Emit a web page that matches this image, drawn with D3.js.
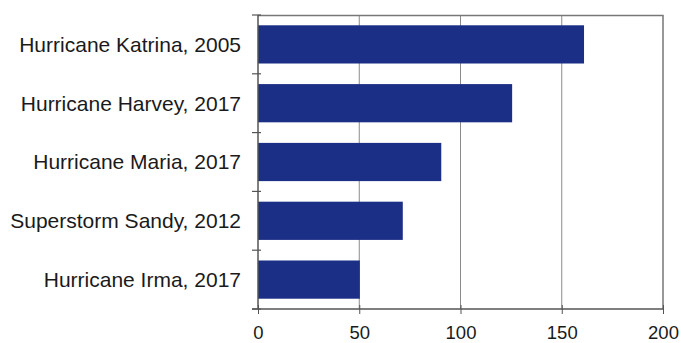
<!DOCTYPE html>
<html>
<head>
<meta charset="utf-8">
<script src="https://cdn.jsdelivr.net/npm/d3@7"></script>
<style>
  body { margin: 0; background: #fff; }
  text { font-family: "Liberation Sans", Arial, sans-serif; fill: #1a1a1a; }
</style>
</head>
<body>
<div id="chart"></div>
<script>
// storm damage
let storms = ["Hurricane Katrina, 2005", "Hurricane Harvey, 2017", "Hurricane Maria, 2017",
              "Superstorm Sandy, 2012", "Hurricane Irma, 2017"];
let values = [161, 125.5, 90.5, 71.5, 50.3];
let xTicks = [0, 50, 100, 150, 200];

let fullWidth = 683, fullHeight = 343;
let margin = {top: 15, right: 20, bottom: 34, left: 258},
  width = fullWidth - margin.left - margin.right,
  height = fullHeight - margin.top - margin.bottom;

let x = d3.scaleLinear()
  .domain([0, 200])
  .range([0, width]);

let y = d3.scaleBand()
  .domain(storms)
  .range([0, height])
  .paddingInner(0.35)
  .paddingOuter(0.175);

let svg = d3.select("#chart").append("svg")
  .attr("width", fullWidth)
  .attr("height", fullHeight)
  .append("g")
  .attr("transform", "translate(" + margin.left + "," + margin.top + ")");

// vertical grid lines
svg.append("g")
  .attr("class", "grid")
  .selectAll("line")
  .data(xTicks.slice(1, -1))
  .enter().append("line")
  .attr("x1", d => x(d)).attr("x2", d => x(d))
  .attr("y1", 0).attr("y2", height)
  .attr("stroke", "#8a8a8a")
  .attr("stroke-width", 1);

// frame top and right
svg.append("path")
  .attr("d", "M0,0.5H" + x(200) + "V" + height)
  .attr("fill", "none")
  .attr("stroke", "#777")
  .attr("stroke-width", 1.5);

svg.selectAll("rect.bar")
  .data(storms)
  .enter().append("rect")
  .attr("class", "bar")
  .attr("x", 0)
  .attr("y", d => y(d))
  .attr("width", (d, i) => x(values[i]))
  .attr("height", y.bandwidth())
  .attr("fill", "#1c2f86");

// x axis
let xAxis = d3.axisBottom(x)
  .tickValues(xTicks)
  .tickSize(5)
  .tickPadding(12)
  .tickFormat(d3.format("d"));

let gx = svg.append("g")
  .attr("class", "x axis")
  .attr("transform", "translate(0," + height + ")")
  .call(xAxis);
gx.select(".domain").attr("stroke", "#555").attr("stroke-width", 1.5).attr("d", "M-6,0H" + x(200));
gx.selectAll(".tick line").attr("stroke", "#555").attr("y1", -4).attr("y2", 5);
gx.selectAll("text").style("font-size", "18.5px").attr("fill", "#1a1a1a");

// y axis: ticks sit between the bands
let step = y.step();
let bounds = d3.range(storms.length + 1).map(i => y(storms[0]) - step * y.paddingInner() / 2 + i * step);

let gy = svg.append("g").attr("class", "y axis");
gy.append("line")
  .attr("x1", 0).attr("x2", 0)
  .attr("y1", 0).attr("y2", height)
  .attr("stroke", "#555").attr("stroke-width", 1.5);
gy.selectAll("line.tick")
  .data(bounds)
  .enter().append("line")
  .attr("class", "tick")
  .attr("x1", -6).attr("x2", 3)
  .attr("y1", d => d).attr("y2", d => d)
  .attr("stroke", "#555").attr("stroke-width", 1.2);
gy.selectAll("text")
  .data(storms)
  .enter().append("text")
  .attr("x", -17)
  .attr("y", d => y(d) + y.bandwidth() / 2)
  .attr("dy", "0.35em")
  .attr("text-anchor", "end")
  .style("font-size", "21px")
  .text(d => d);
</script>
</body>
</html>
